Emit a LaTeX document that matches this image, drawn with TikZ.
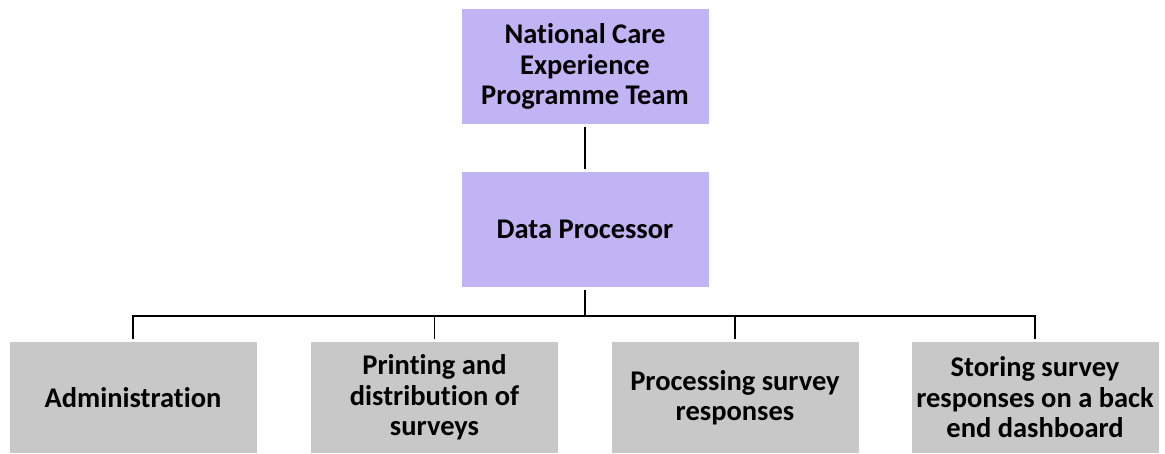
\documentclass[tikz,border=0pt]{standalone}
\usepackage{fontspec}
\setmainfont{Carlito}[Ligatures=NoCommon]
\definecolor{purplebox}{RGB}{192,180,245}
\definecolor{graybox}{RGB}{200,200,200}
\begin{document}
\begin{tikzpicture}[x=1pt,y=1pt,
  box/.style={minimum width=247pt,inner sep=0pt,align=center,
    font=\fontsize{28.5}{30.5}\selectfont\bfseries},
  topbox/.style={box,fill=purplebox,minimum height=115pt},
  botbox/.style={box,fill=graybox,minimum height=111pt},
  trunk/.style={line width=2.6pt,black},
  branch/.style={line width=1.8pt,black}]
\useasboundingbox (0,0) rectangle (1165,453);
\node[topbox] (top) at (585,386.5) {National Care\\Experience\\Programme Team};
\node[topbox] (dp) at (585,223.5) {Data Processor};
\node[botbox] (b1) at (133,55.5) {Administration};
\node[botbox] (b2) at (434.5,55.5) {Printing and\\distribution of\\surveys};
\node[botbox] (b3) at (735,55.5) {Processing survey\\responses};
\node[botbox] (b4) at (1035,55.5) {Storing survey\\responses on a back\\end dashboard};
\coordinate (bus) at (585,137);
\draw[trunk,shorten <=3pt,shorten >=3pt] (top.south) -- (dp.north);
\draw[trunk,shorten <=3pt] (dp.south) -- (bus);
\foreach \b in {b1,b2,b3,b4}
  \draw[branch,shorten >=3pt] (bus) -| (\b.north);
\end{tikzpicture}
\end{document}
